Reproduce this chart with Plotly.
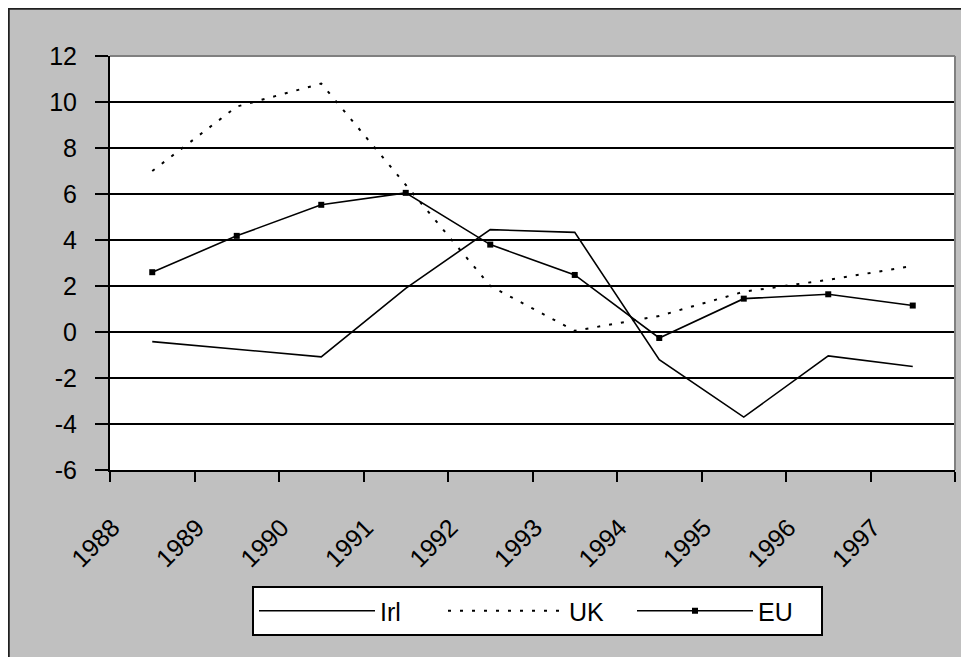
import plotly.graph_objects as go

# data
years = ['1988', '1989', '1990', '1991', '1992', '1993', '1994', '1995', '1996', '1997']
irl = [-0.42, -0.75, -1.08, 1.9, 4.45, 4.33, -1.2, -3.7, -1.04, -1.5]
uk = [7.0, 9.8, 10.8, 6.4, 2.0, 0.05, 0.7, 1.75, 2.27, 2.87]
eu = [2.6, 4.18, 5.53, 6.05, 3.8, 2.48, -0.26, 1.45, 1.64, 1.15]
yticks = [-6, -4, -2, 0, 2, 4, 6, 8, 10, 12]

# the page body adds an 8px margin, so the figure is laid out 8px up/left
W, H = 961, 649
L, R, T, B = 102, 947, 48, 462   # plot area in figure pixels

def px_x(p):
    return (p - L) / (R - L)

def px_y(p):
    return (B - p) / (B - T)

xc = [i + 0.5 for i in range(len(years))]   # category centres
FONT = 'Liberation Sans, Arial, sans-serif'

fig = go.Figure([
    go.Scatter(name='Irl', x=xc, y=irl, mode='lines',
               line=dict(color='black', width=1.6)),
    go.Scatter(name='UK', x=xc, y=uk, mode='lines',
               line=dict(color='black', width=2, dash='3px,9px')),
    go.Scatter(name='EU', x=xc, y=eu, mode='lines+markers',
               line=dict(color='black', width=1.6),
               marker=dict(symbol='square', size=6, color='black')),
])

fig.update_layout(
    width=W, height=H,
    margin=dict(l=L, r=W - R, t=T, b=H - B, autoexpand=False),
    paper_bgcolor='#c0c0c0',
    plot_bgcolor='white',
    font=dict(family=FONT, size=25, color='black'),
    showlegend=True,
    legend=dict(
        orientation='h',
        x=px_x(244), y=px_y(578), xanchor='left', yanchor='top',
        bgcolor='white', bordercolor='black', borderwidth=2,
        entrywidth=58, entrywidthmode='pixels',
        itemwidth=116,
        font=dict(size=25),
    ),
)

fig.update_xaxes(
    range=[0, len(years)],
    tickmode='array',
    tickvals=[i + 0.03 for i in range(len(years))],
    ticktext=years,
    tickangle=-45,
    ticks='',
    ticklabelstandoff=31,
    showgrid=False, zeroline=False,
    showline=True, linecolor='black', linewidth=2,
    minor=dict(tickmode='linear', tick0=0, dtick=1, ticks='outside',
               ticklen=10, tickwidth=2, tickcolor='black', showgrid=False),
    tickfont=dict(size=25),
)
fig.update_yaxes(
    range=[-6, 12],
    tickmode='array', tickvals=yticks, ticktext=[str(v) for v in yticks],
    ticks='outside', ticklen=13, tickwidth=2, tickcolor='black',
    ticklabelstandoff=13,
    showgrid=True, gridcolor='black', gridwidth=2,
    zeroline=False,
    showline=True, linecolor='black', linewidth=2,
    tickfont=dict(size=25),
)

# gray top/right frame of the plot area and the dark chart border
shapes = [
    dict(type='line', xref='paper', yref='paper', x0=0, x1=1, y0=1, y1=1,
         line=dict(color='#808080', width=2), layer='above'),
    dict(type='line', xref='paper', yref='paper', x0=1, x1=1, y0=0, y1=1,
         line=dict(color='#808080', width=2), layer='above'),
    dict(type='line', xref='paper', yref='paper',
         x0=px_x(0.5), x1=px_x(0.5), y0=px_y(H), y1=px_y(0),
         line=dict(color='#202020', width=2.5), layer='below'),
    dict(type='line', xref='paper', yref='paper',
         x0=px_x(0), x1=px_x(W), y0=px_y(0.5), y1=px_y(0.5),
         line=dict(color='#202020', width=2.5), layer='below'),
]
fig.update_layout(shapes=shapes)

fig.write_html('out.html')
